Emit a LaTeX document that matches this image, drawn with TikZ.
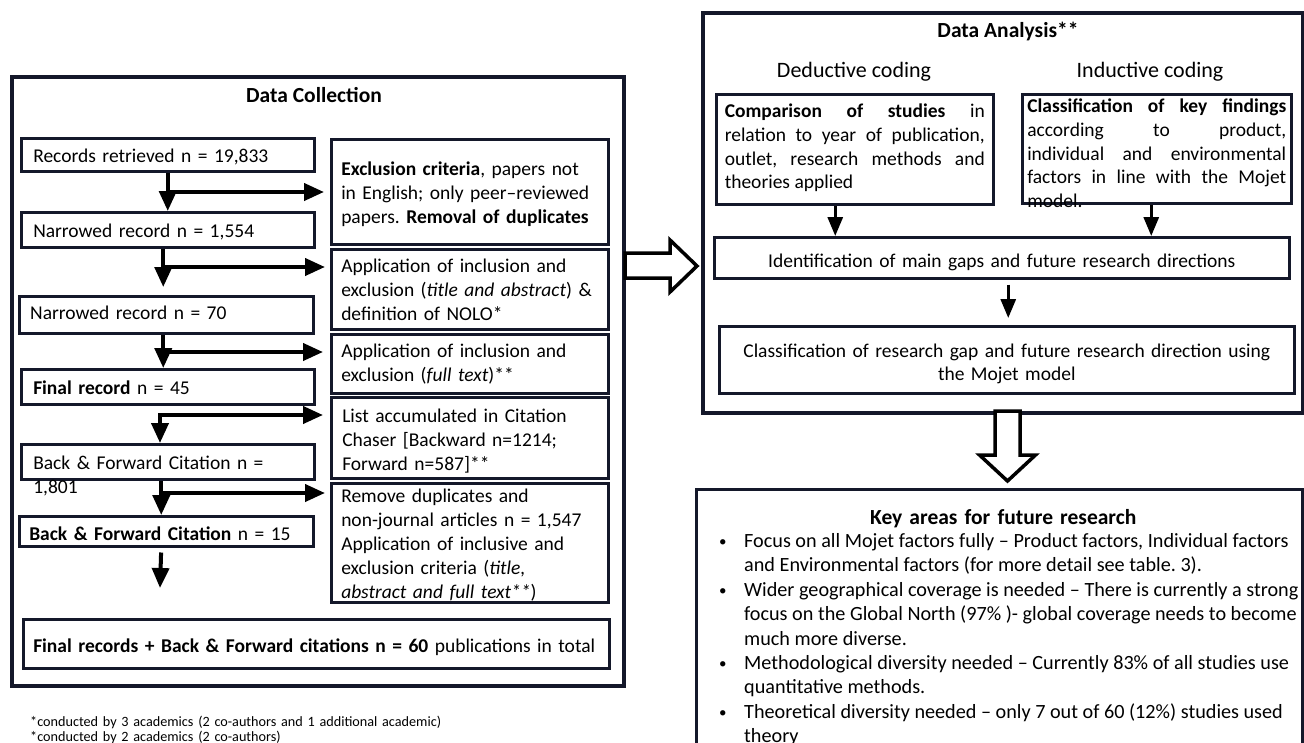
\documentclass[tikz,border=0pt]{standalone}
\usepackage{fontspec}
\setmainfont{Carlito}
\usetikzlibrary{arrows.meta}
\definecolor{bordc}{RGB}{20,24,42}
\newcommand\myls[1]{\leftskip=#1\relax}
\tikzset{
  outerbox/.style={draw=bordc, line width=4pt, inner sep=0pt, anchor=north west},
  bx/.style={draw=bordc, line width=2.5pt, anchor=north west, inner ysep=0pt, inner xsep=4pt, align=left, font=\fontsize{19.5}{24}\selectfont},
  arr/.style={line width=4pt, draw=black, -{Triangle[width=17pt,length=20pt]}},
  arrs/.style={line width=3pt, draw=black, -{Triangle[width=15pt,length=19pt]}},
  hollow/.style={draw=black, line width=3.5pt, fill=white, line join=miter},
  ttl/.style={font=\bfseries\fontsize{21.5}{24}\selectfont, anchor=base, inner sep=0pt},
  subttl/.style={font=\fontsize{22}{24}\selectfont, anchor=base, inner sep=0pt},
}
\begin{document}
\frenchspacing
\hyphenpenalty=10000
\exhyphenpenalty=10000
\begin{tikzpicture}[x=1pt,y=-1pt]
\useasboundingbox (0,0) rectangle (1304,742);
\fill[white] (0,0) rectangle (1304,742);
\clip (0,0) rectangle (1304,742);

% outer boxes
\node[outerbox, minimum width=612pt, minimum height=609pt] (dc) at (10,75) {};
\node[outerbox, minimum width=600pt, minimum height=400pt] (da) at (701,11) {};

% titles
\node[ttl] (dctitle) at (314,102) {Data Collection};
\node[ttl] (datitle) at (1008,37) {Data Analysis**};
\node[subttl] (dedt) at (854,77) {Deductive coding};
\node[subttl] (indt) at (1150,77) {Inductive coding};

% left column
\node[bx, minimum width=293pt, text width=285pt, text height=24.5pt, text depth=8.5pt] (rec1) at (20,137) {\myls{8pt}Records retrieved n = 19,833\par};
\node[bx, minimum width=293pt, text width=285pt, text height=25.5pt, text depth=9.5pt] (rec2) at (20,211) {\myls{8pt}Narrowed record n = 1,554\par};
\node[bx, minimum width=294pt, text width=286pt, text height=23.5pt, text depth=13.5pt] (rec3) at (18,295) {\myls{7pt}Narrowed record n = 70\par};
\node[bx, minimum width=293pt, text width=285pt, text height=25.5pt, text depth=9.5pt] (rec4) at (20,368) {\myls{8pt}\textbf{Final record} n = 45\par};
\node[bx, minimum width=293pt, text width=285pt, text height=25.5pt, text depth=9.5pt] (rec5) at (20,443) {\myls{8pt}Back \& Forward Citation n =\\1,801\par};
\node[bx, minimum width=294pt, text width=286pt, text height=24.5pt, text depth=5.5pt] (rec6) at (18,515) {\myls{6pt}\textbf{Back \& Forward Citation} n = 15\par};
\node[bx, minimum width=586pt, text width=578pt, text height=33.5pt, text depth=15.5pt] (fin) at (22,618) {\myls{6pt}\textbf{Final records + Back \& Forward citations n = 60} publications in total\par};

% right column
\node[bx, minimum width=277pt, text width=269pt, text height=36.5pt, text depth=68.5pt] (ex1) at (330,138) {\myls{6pt}\textbf{Exclusion criteria}, papers not\\in English; only peer--reviewed\\papers. \textbf{Removal of duplicates}\par};
\node[bx, minimum width=277pt, text width=269pt, text height=23.5pt, text depth=56.5pt] (ex2) at (330,248) {\myls{6pt}Application of inclusion and\\exclusion (\textit{title and abstract}) \&\\definition of NOLO*\par};
\node[bx, minimum width=277pt, text width=269pt, text height=23.5pt, text depth=35.5pt] (ex3) at (330,333) {\myls{6pt}Application of inclusion and\\exclusion (\textit{full text})**\par};
\node[bx, minimum width=277pt, text width=269pt, text height=25.5pt, text depth=55.5pt] (ex4) at (330,396) {\myls{7pt}List accumulated in Citation\\Chaser [Backward n=1214;\\Forward n=587]**\par};
\node[bx, minimum width=277pt, text width=269pt, text height=19.5pt, text depth=99.5pt] (ex5) at (330,482) {\myls{6pt}Remove duplicates and\\non-journal articles n = 1,547\\Application of inclusive and\\exclusion criteria (\textit{title,}\\\textit{abstract and full text**})\par};

% data analysis boxes
\node[bx, align=justify, font=\fontsize{19.5}{23.7}\selectfont, minimum width=277pt, inner xsep=8.5pt, text width=260pt, text height=23.5pt, text depth=86.5pt] (ded) at (715,93) {\textbf{Comparison of studies} in\linebreak relation to year of publication,\linebreak outlet, research methods and\linebreak theories applied};
\node[bx, align=justify, font=\fontsize{19.5}{23.7}\selectfont, minimum width=269pt, inner xsep=5pt, text width=259pt, text height=18.5pt, text depth=90.5pt] (ind) at (1021,93) {\textbf{Classification of key findings}\linebreak according to product,\linebreak individual and environmental\linebreak factors in line with the Mojet\linebreak model.};
\node[bx, align=center, minimum width=575pt, inner xsep=5pt, text width=565pt, text height=30.5pt, text depth=10.5pt] (ident) at (713,236) {Identification of main gaps and future research directions};
\node[bx, align=center, font=\fontsize{19.5}{23}\selectfont, minimum width=575pt, inner xsep=5pt, text width=565pt, text height=31.5pt, text depth=35.5pt] (class) at (718,325) {Classification of research gap and future research direction using\\the Mojet model};

% key areas
\node[bx, align=center, font=\bfseries\fontsize{21.5}{24}\selectfont, minimum width=606pt, inner xsep=5pt, text width=596pt, text height=35.5pt, text depth=236.5pt] (key) at (695,488) {\hspace*{8pt}Key areas for future research};
\node[anchor=base west, inner sep=0pt, font=\fontsize{20.2}{24.4}\selectfont] (bul) at (719,547.5) {\begin{tabular}[t]{@{}p{25pt}@{}l@{}}
\raisebox{1pt}{\fontsize{15}{15}\selectfont\textbullet} & Focus on all Mojet factors fully -- Product factors, Individual factors\\
 & and Environmental factors (for more detail see table. 3).\\
\raisebox{1pt}{\fontsize{15}{15}\selectfont\textbullet} & Wider geographical coverage is needed -- There is currently a strong\\
 & focus on the Global North (97\% )- global coverage needs to become\\
 & much more diverse.\\
\raisebox{1pt}{\fontsize{15}{15}\selectfont\textbullet} & Methodological diversity needed -- Currently 83\% of all studies use\\
 & quantitative methods.\\
\raisebox{1pt}{\fontsize{15}{15}\selectfont\textbullet} & Theoretical diversity needed -- only 7 out of 60 (12\%) studies used\\
 & theory
\end{tabular}};

% footnotes
\node[anchor=base west, inner sep=0pt, text width=520pt, align=left, font=\fontsize{14.2}{15}\selectfont] (fn) at (30,726.5) {*conducted by 3 academics (2 co-authors and 1 additional academic)\\**conducted by 2 academics (2 co-authors)};

% left arrows
\draw[arr] (rec1.south) -- (rec2.north);
\coordinate (j1) at (166.5,192);
\draw[arr, shorten >=6pt] (j1) -- (j1 -| ex1.west);
\draw[arr, shorten >=8pt] ([xshift=-4.5pt]rec2.south) -- ([xshift=-4.5pt]rec2.south |- rec3.north);
\coordinate (j2) at (162,267);
\draw[arr, shorten >=5pt] (j2) -- (j2 -| ex2.west);
\draw[arr] ([xshift=-3pt]rec3.south) -- ([xshift=-3pt]rec3.south |- rec4.north);
\coordinate (j3) at (162,352);
\draw[arr, shorten >=7pt] (j3) -- (j3 -| ex3.west);
\coordinate (j4) at (160,415);
\draw[arr, shorten >=7pt] (j4) -- (j4 -| ex4.west);
\draw[arr] ([yshift=2pt]j4) -- (j4 |- rec5.north);
\draw[arr] ([xshift=-6.5pt]rec5.south) -- ([xshift=-6.5pt]rec5.south |- rec6.north);
\coordinate (j5) at (160,493);
\draw[arr, shorten >=5pt] (j5) -- (j5 -| ex5.west);
\coordinate (e6) at (160,588);
\draw[arr, shorten <=5pt] ([xshift=-5pt]rec6.south) -- (e6);

% right arrows
\draw[arrs] ([xshift=-19.5pt]ded.south) -- ([xshift=-19.5pt]ded.south |- ident.north);
\draw[arrs] ([xshift=-5.5pt]ind.south) -- ([xshift=-5.5pt]ind.south |- ident.north);
\draw[arrs, shorten <=5pt, shorten >=7pt] ([xshift=6.5pt]ident.south) -- ([xshift=6.5pt]ident.south |- class.north);

% hollow block arrows
\draw[hollow] (625,253) -- (670,253) -- (670,240) -- (697,266) -- (670,292) -- (670,278) -- (625,278) -- cycle;
\draw[hollow] (995,411) -- (1020,411) -- (1020,455) -- (1035.5,455) -- (1007.5,481) -- (979.5,455) -- (995,455) -- cycle;
\end{tikzpicture}
\end{document}
